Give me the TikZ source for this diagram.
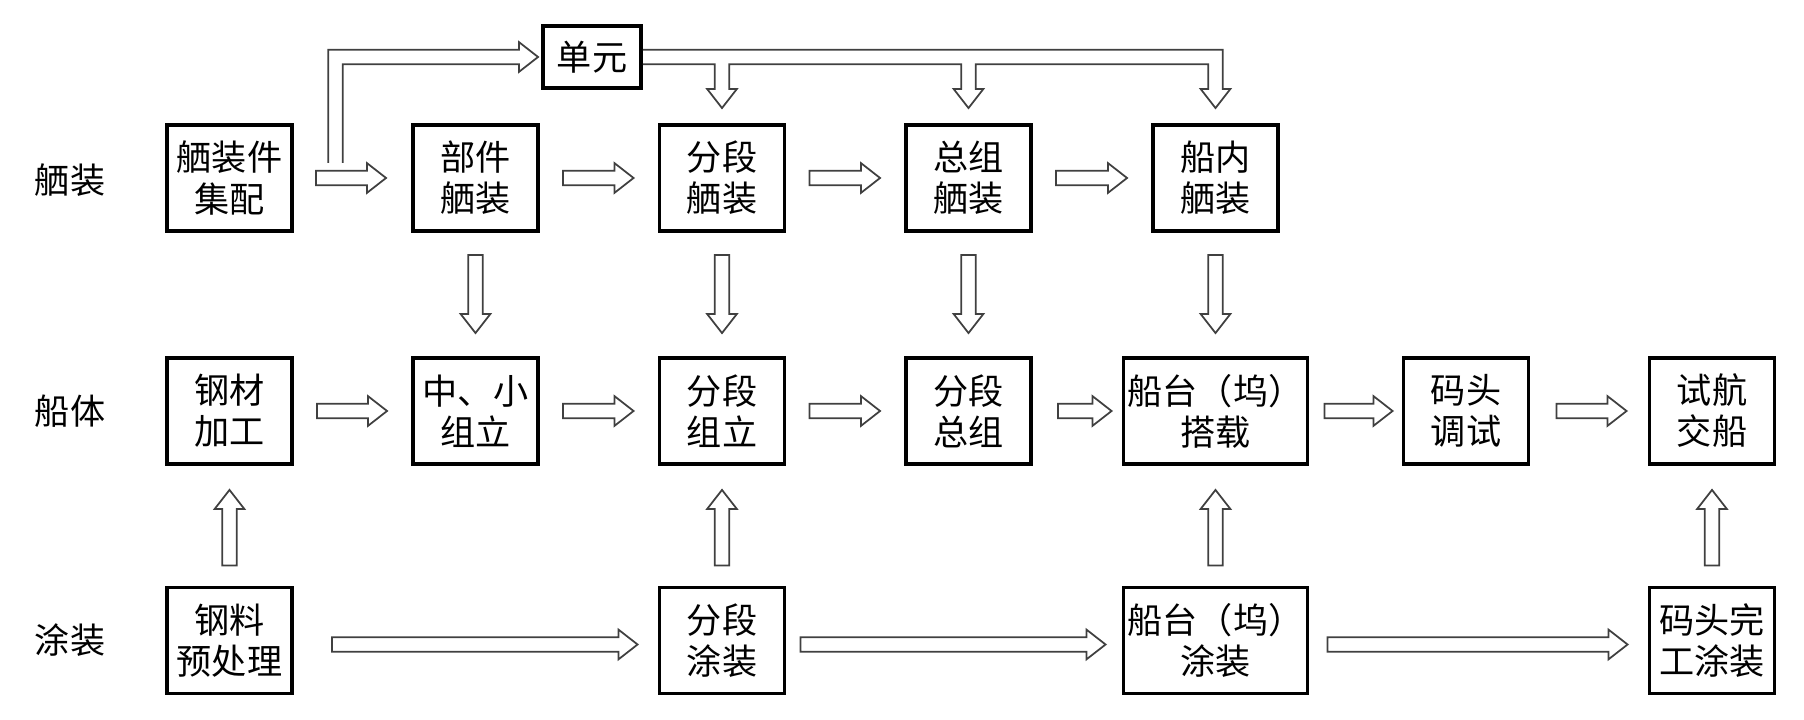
\documentclass[tikz,border=0pt]{standalone}
\usepackage{fontspec}
\newfontfamily\cjkfont{Noto Sans CJK SC}
\usepackage{tikz}
\usetikzlibrary{calc}

\begin{document}
\begin{tikzpicture}[
    box/.style={draw, line width=1.1pt, minimum width=1.25cm, minimum height=1.06cm,
        inner sep=0pt, align=center, font={\cjkfont\fontsize{10}{11.7}\selectfont}},
    widebox/.style={box, minimum width=1.84cm},
    lbl/.style={font={\cjkfont\fontsize{10}{11.7}\selectfont}},
    arr/.style={draw=black!75, line width=0.5pt, fill=white, line join=miter},
]
\def\shaft{0.072cm}
\def\headw{0.148cm}
\def\headl{0.19cm}
% hollow arrow from #1 to #2
\def\harrow#1#2{%
  \coordinate (ha0) at (#1);
  \coordinate (ha2) at (#2);
  \coordinate (ha1) at ($(ha2)!\headl!(ha0)$);
  \draw[arr] ($(ha0)!\shaft!90:(ha2)$) -- ($(ha1)!\shaft!90:(ha2)$)
    -- ($(ha1)!\headw!90:(ha2)$) -- (ha2) -- ($(ha1)!\headw!-90:(ha2)$)
    -- ($(ha1)!\shaft!-90:(ha2)$) -- ($(ha0)!\shaft!-90:(ha2)$) -- cycle;}

\useasboundingbox (0,0) rectangle (18.04,-7.2);

% row labels
\node[lbl] (lxz) at (0.70,-1.80) {舾装};
\node[lbl] (lct) at (0.70,-4.11) {船体};
\node[lbl] (ltz) at (0.70,-6.40) {涂装};

% outfitting row
\node[box] (jp)   at (2.295,-1.78)  {舾装件\\集配};
\node[box] (bj)   at (4.755,-1.78)  {部件\\舾装};
\node[box] (fdxz) at (7.22,-1.78)   {分段\\舾装};
\node[box] (zzxz) at (9.685,-1.78)  {总组\\舾装};
\node[box] (cnxz) at (12.155,-1.78) {船内\\舾装};
\node[box, minimum width=0.98cm, minimum height=0.62cm] (dy) at (5.92,-0.57) {单元};

% hull row
\node[box] (gc)   at (2.295,-4.11)  {钢材\\加工};
\node[box] (zx)   at (4.755,-4.11)  {中、小\\组立};
\node[box] (fdzl) at (7.22,-4.11)   {分段\\组立};
\node[box] (fdzz) at (9.685,-4.11)  {分段\\总组};
\node[widebox] (ct) at (12.155,-4.11) {船台（坞）\\搭载};
\node[box] (mt)   at (14.66,-4.11)  {码头\\调试};
\node[box] (sh)   at (17.12,-4.11)  {试航\\交船};

% painting row
\node[box] (yc)   at (2.295,-6.405) {钢料\\预处理};
\node[box] (fdtz) at (7.22,-6.405)  {分段\\涂装};
\node[widebox] (cttz) at (12.155,-6.405) {船台（坞）\\涂装};
\node[box] (wg)   at (17.12,-6.405) {码头完\\工涂装};

% horizontal arrows
\harrow{$(jp.east)+(0.22,0)$}{$(bj.west)-(0.25,0)$}
\harrow{$(bj.east)+(0.23,0)$}{$(fdxz.west)-(0.24,0)$}
\harrow{$(fdxz.east)+(0.23,0)$}{$(zzxz.west)-(0.24,0)$}
\harrow{$(zzxz.east)+(0.23,0)$}{$(cnxz.west)-(0.24,0)$}
\harrow{$(gc.east)+(0.23,0)$}{$(zx.west)-(0.24,0)$}
\harrow{$(zx.east)+(0.23,0)$}{$(fdzl.west)-(0.24,0)$}
\harrow{$(fdzl.east)+(0.23,0)$}{$(fdzz.west)-(0.24,0)$}
\harrow{$(fdzz.east)+(0.25,0)$}{$(ct.west)-(0.10,0)$}
\harrow{$(ct.east)+(0.15,0)$}{$(mt.west)-(0.09,0)$}
\harrow{$(mt.east)+(0.26,0)$}{$(sh.west)-(0.21,0)$}
\harrow{$(yc.east)+(0.38,-0.04)$}{$(fdtz.west)-(0.20,0.04)$}
\harrow{$(fdtz.east)+(0.14,-0.04)$}{$(cttz.west)-(0.16,0.04)$}
\harrow{$(cttz.east)+(0.18,-0.04)$}{$(wg.west)-(0.20,0.04)$}

% vertical arrows
\harrow{$(bj.south)+(0,-0.22)$}{$(zx.north)+(0,0.23)$}
\harrow{$(fdxz.south)+(0,-0.22)$}{$(fdzl.north)+(0,0.23)$}
\harrow{$(zzxz.south)+(0,-0.22)$}{$(fdzz.north)+(0,0.23)$}
\harrow{$(cnxz.south)+(0,-0.22)$}{$(ct.north)+(0,0.23)$}
\harrow{$(yc.north)+(0,0.20)$}{$(gc.south)+(0,-0.24)$}
\harrow{$(fdtz.north)+(0,0.20)$}{$(fdzl.south)+(0,-0.24)$}
\harrow{$(cttz.north)+(0,0.20)$}{$(ct.south)+(0,-0.24)$}
\harrow{$(wg.north)+(0,0.20)$}{$(sh.south)+(0,-0.24)$}

% branch up to the unit box
\draw[arr, fill=none] let \p1=($(jp.east)+(0.415,0.15)$), \p2=($(dy.west)-(0.03,0)$) in
  (\x1-\shaft,\y1) -- (\x1-\shaft,\y2+\shaft) -- (\x2-\headl,\y2+\shaft)
  -- (\x2-\headl,\y2+\headw) -- (\p2) -- (\x2-\headl,\y2-\headw)
  -- (\x2-\headl,\y2-\shaft) -- (\x1+\shaft,\y2-\shaft) -- (\x1+\shaft,\y1);

% unit box feeding three outfitting stages
\draw[arr, fill=none] let \p1=(dy.east), \p3=($(fdxz.north)+(0,0.15)$),
    \p4=($(zzxz.north)+(0,0.15)$), \p5=($(cnxz.north)+(0,0.15)$) in
  (\x1,\y1+\shaft) -- (\x5+\shaft,\y1+\shaft) -- (\x5+\shaft,\y5+\headl)
  -- (\x5+\headw,\y5+\headl) -- (\p5) -- (\x5-\headw,\y5+\headl)
  -- (\x5-\shaft,\y5+\headl) -- (\x5-\shaft,\y1-\shaft)
  -- (\x4+\shaft,\y1-\shaft) -- (\x4+\shaft,\y4+\headl)
  -- (\x4+\headw,\y4+\headl) -- (\p4) -- (\x4-\headw,\y4+\headl)
  -- (\x4-\shaft,\y4+\headl) -- (\x4-\shaft,\y1-\shaft)
  -- (\x3+\shaft,\y1-\shaft) -- (\x3+\shaft,\y3+\headl)
  -- (\x3+\headw,\y3+\headl) -- (\p3) -- (\x3-\headw,\y3+\headl)
  -- (\x3-\shaft,\y3+\headl) -- (\x3-\shaft,\y1-\shaft) -- (\x1,\y1-\shaft);
\end{tikzpicture}
\end{document}
